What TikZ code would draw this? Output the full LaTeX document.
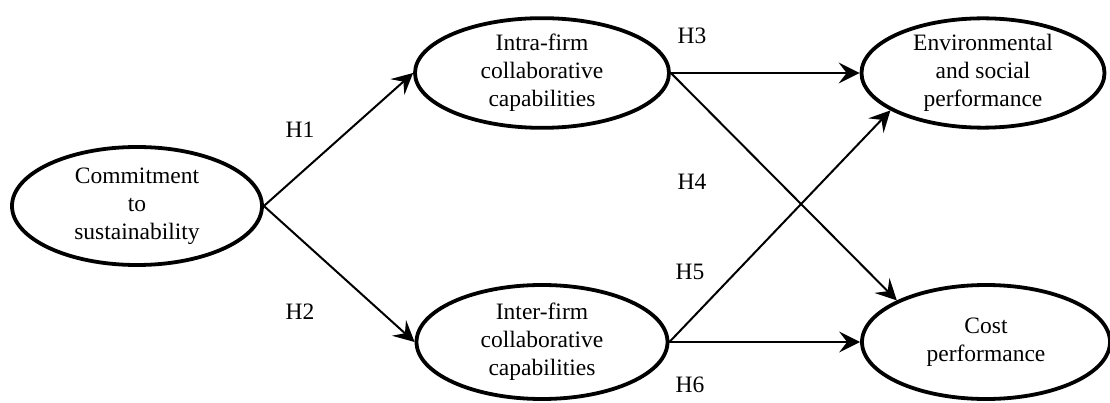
\documentclass[tikz,border=0pt]{standalone}
\usepackage{fontspec}
\setmainfont{Liberation Serif}
\usetikzlibrary{shapes.geometric,arrows.meta}
\tikzset{
  construct/.style={draw,ellipse,line width=3.8pt,inner sep=0pt,align=center,
    font=\fontsize{23.5}{28}\selectfont},
  path/.style={line width=2pt,-{Stealth[length=21pt,width=21pt,inset=8pt]}},
  hyp/.style={font=\fontsize{23.5}{28}\selectfont}
}
\begin{document}
\begin{tikzpicture}[x=1pt,y=-1pt]
\useasboundingbox (0,0) rectangle (1110,403);
% constructs
\node[construct,minimum width=250pt,minimum height=118pt] (commit) at (137,206)
  {Commitment\\to\\sustainability};
\node[construct,minimum width=254pt,minimum height=104pt] (intra) at (542,73)
  {Intra-firm\\collaborative\\capabilities};
\node[construct,minimum width=251pt,minimum height=114pt] (inter) at (542,342)
  {Inter-firm\\collaborative\\capabilities};
\node[construct,minimum width=243pt,minimum height=106pt] (env) at (983,73)
  {Environmental\\and social\\performance};
\node[construct,minimum width=248pt,minimum height=114pt] (cost) at (986,342)
  {Cost\\performance};
% hypotheses
\draw[path] (commit.east) -- (intra.west);
\draw[path] (commit.east) -- (inter.west);
\draw[path] (intra.east) -- (env.west);
\draw[path] (intra.east) -- (cost.155);
\draw[path] (inter.east) -- (env.202);
\draw[path] (inter.east) -- (cost.west);
\node[hyp] (h1) at (300,130) {H1};
\node[hyp] (h2) at (300,312) {H2};
\node[hyp] (h3) at (692,36) {H3};
\node[hyp] (h4) at (692,182) {H4};
\node[hyp] (h5) at (690,272) {H5};
\node[hyp] (h6) at (690,385) {H6};
\end{tikzpicture}
\end{document}
